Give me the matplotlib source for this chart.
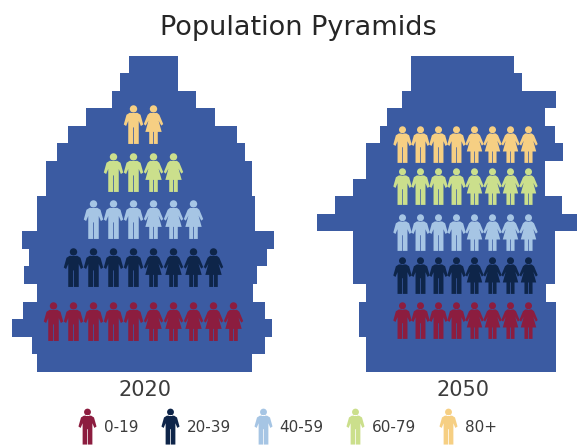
import matplotlib
matplotlib.use("Agg")
import matplotlib.pyplot as plt
import numpy as np
from matplotlib.path import Path
from matplotlib.lines import Line2D

# Population per single band, oldest band first (arbitrary units)
male_2020 = [16, 25, 33, 59, 77, 88, 99, 99, 108, 108, 123, 116, 121, 108, 122, 133, 113, 108]
female_2020 = [33, 33, 51, 70, 92, 100, 107, 107, 110, 110, 129, 122, 112, 108, 120, 127, 120, 107]
male_2050 = [52, 52, 61, 76, 83, 97, 97, 110, 128, 146, 110, 110, 110, 97, 104, 104, 97, 97]
female_2050 = [51, 59, 93, 82, 92, 100, 82, 82, 99, 117, 92, 92, 92, 83, 93, 93, 93, 93]

age_groups = ["0-19", "20-39", "40-59", "60-79", "80+"]
colors = ["#8C1D3F", "#0E2549", "#A6C5E4", "#CBDF8C", "#F6CF83"]
icons_2020 = [10, 8, 6, 4, 2]
icons_2050 = [8, 8, 8, 8, 8]
icon_rows_2020 = [14.6, 11.53, 8.8, 6.12, 3.39]
icon_rows_2050 = [14.56, 11.99, 9.54, 6.92, 4.53]
years = ["2020", "2050"]

BAR = "#3B5BA2"
TEXT = "#3C3C3C"


def make_path(polygon):
    head = Path.circle((0, 0.80), 0.19)
    verts = list(head.vertices) + polygon + [polygon[0]]
    codes = list(head.codes) + [Path.MOVETO] + [Path.LINETO] * (len(polygon) - 1) + [Path.CLOSEPOLY]
    return Path(verts, codes)


male_icon = make_path([
    (0.20, 0.60), (0.36, 0.50), (0.50, 0.00), (0.38, -0.08), (0.27, 0.18), (0.27, -1), (0.02, -1),
    (0.02, -0.15), (-0.02, -0.15), (-0.02, -1), (-0.27, -1), (-0.27, 0.18), (-0.38, -0.08),
    (-0.50, 0.00), (-0.36, 0.50), (-0.20, 0.60),
])
female_icon = make_path([
    (0.18, 0.60), (0.30, 0.50), (0.50, 0.02), (0.40, -0.06), (0.26, 0.20), (0.42, -0.38), (0.22, -0.38),
    (0.22, -1), (0.02, -1), (0.02, -0.38), (-0.02, -0.38), (-0.02, -1), (-0.22, -1), (-0.22, -0.38),
    (-0.42, -0.38), (-0.26, 0.20), (-0.40, -0.06), (-0.50, 0.02), (-0.30, 0.50), (-0.18, 0.60),
])

fig = plt.figure(figsize=(5.77, 4.45), dpi=100)
W, H = 577, 445


def panel(left_px, right_px, centre_px, male, female, counts, rows, spacing, offset, size, label):
    ax = fig.add_axes([left_px / W, 0, (right_px - left_px) / W, 1])
    ax.set_xlim(left_px - centre_px, right_px - centre_px)
    ax.set_ylim(21.67, -3.67)
    ax.axis("off")
    y = np.arange(len(male))
    ax.barh(y, -np.array(male), height=1.0, color=BAR, linewidth=0)
    ax.barh(y, female, height=1.0, color=BAR, linewidth=0)
    for n, r, c in zip(counts, rows, colors):
        xs = offset + (np.arange(n) - (n - 1) / 2) * spacing
        half = n // 2
        ax.plot(xs[:half], [r] * half, ls="", marker=male_icon, ms=size, mfc=c, mec="none")
        ax.plot(xs[half:], [r] * (n - half), ls="", marker=female_icon, ms=size, mfc=c, mec="none")
    ax.text(0, 1 - 390 / H, label, transform=ax.get_xaxis_transform(), ha="center", va="center",
            fontsize=15, color=TEXT)
    return ax


panel(0, 288, 145, male_2020, female_2020, icons_2020, icon_rows_2020, 20, -2, 28, years[0])
panel(288, 577, 463, male_2050, female_2050, icons_2050, icon_rows_2050, 18, 2, 26.5, years[1])

fig.text(298 / W, 1 - 28 / H, "Population Pyramids", ha="center", va="center", fontsize=19.5, color="#262626")

handles = [Line2D([], [], ls="", marker=male_icon, ms=26, mfc=c, mec="none") for c in colors]
fig.legend(handles, age_groups, ncols=5, frameon=False, loc="center", bbox_to_anchor=(288 / W, 1 - 427 / H),
           fontsize=11, labelcolor=TEXT, handlelength=1.0, handletextpad=0.6, columnspacing=1.57,
           borderpad=0, borderaxespad=0)

fig.savefig("out.png", dpi=100, facecolor="white")
